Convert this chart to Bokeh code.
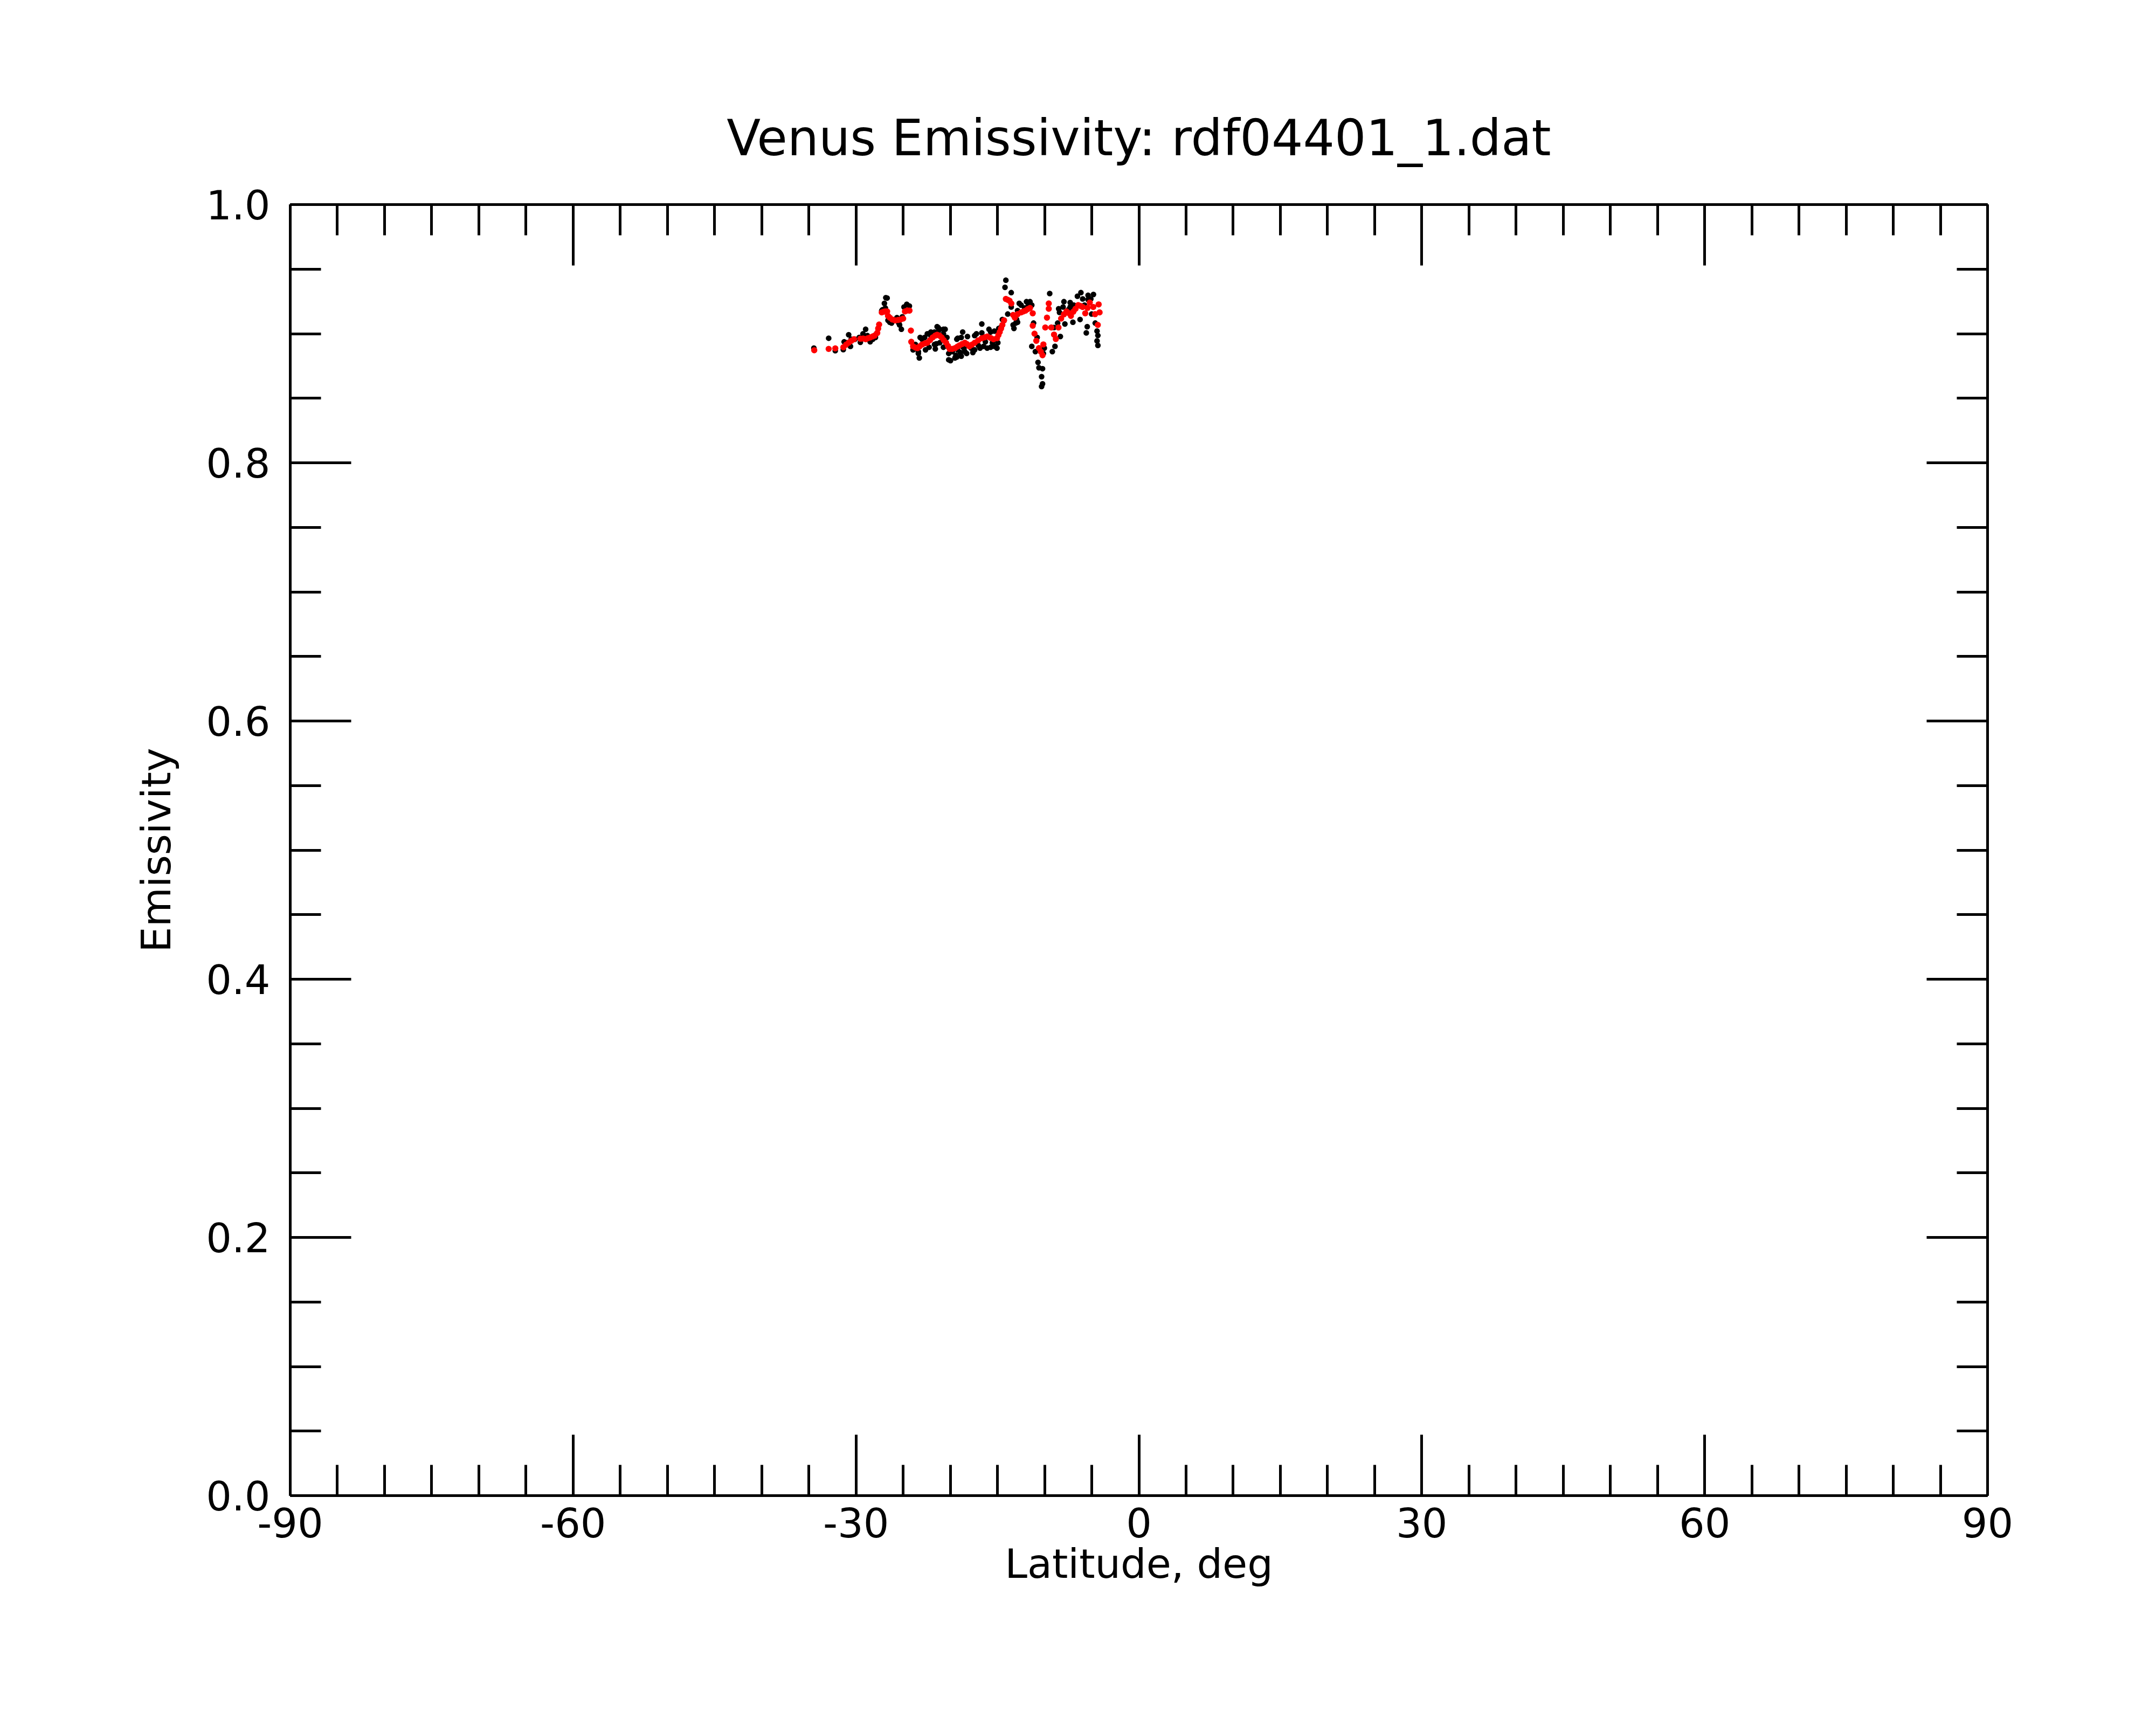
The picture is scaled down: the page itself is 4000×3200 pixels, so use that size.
from bokeh.plotting import figure
from bokeh.models import (Range1d, LinearAxis, FixedTicker, PrintfTickFormatter,
                          CustomJSTickFormatter, ColumnDataSource)
from bokeh.embed import file_html
from bokeh.resources import INLINE

# ---------------- data ----------------
title_text = "Venus Emissivity: rdf04401_1.dat"
x_label = "Latitude, deg"
y_label = "Emissivity"

x_major = [-90, -60, -30, 0, 30, 60, 90]
x_minor = list(range(-90, 91, 5))
y_major = [0.0, 0.2, 0.4, 0.6, 0.8, 1.0]
y_minor = [round(0.05 * i, 2) for i in range(21)]

# raw measurements (black)
raw_lat = [-34.47, -32.90, -32.20, -31.35, -30.78, -30.59, -30.11, -29.54, -28.98, -29.26,
           -28.50, -27.94, -26.84, -26.99, -27.18, -26.61, -26.42, -25.47, -25.19, -24.62,
           -24.34, -26.23, -26.70, -23.29, -23.39, -22.72, -22.06, -21.30, -20.73, -21.59,
           -20.17, -19.51, -18.84, -18.69, -19.22, -22.63, -21.40, -20.55, -20.36, -19.31,
           -19.98, -19.31, -17.61, -18.27, -18.18, -17.23, -16.66, -16.47, -15.72, -15.05,
           -15.90, -15.33, -14.11, -14.20, -13.54, -13.91, -13.25, -12.87, -12.69, -11.92,
           -11.55, -11.36, -10.98, -10.70, -10.60, -10.22, -10.32, -10.22, -10.32, -9.46,
           -7.95, -7.29, -6.15, -6.52, -4.82, -5.39, -4.44, -4.35, -4.44, -4.35,
           -5.58, -5.48, -7.85, -7.00, -6.24, -9.18, -8.90, -8.33, -10.03, -10.13,
           -8.51, -7.47, -5.96, -5.10,
           -23.70, -23.00, -22.06, -21.30, -20.73, -20.26, -19.79, -19.22, -18.65, -22.25,
           -21.49, -18.55, -17.79, -17.03, -16.28, -15.53, -14.96, -14.58, -13.54, -12.87,
           -12.11, -11.73, -11.17, -10.79, -12.97, -8.42, -8.04, -7.29, -6.91, -5.77,
           -5.39, -5.01, -4.63, -9.00, -8.62, -31.26, -30.98, -30.51, -29.66, -28.79,
           -28.22, -27.84, -27.27, -26.89, -25.66, -25.09, -24.91, -25.38,
           -23.95, -23.39, -21.68, -21.12, -20.73, -20.17, -19.41, -18.93, -18.46, -21.12,
           -21.68, -22.44, -23.20, -18.84, -17.42, -16.85, -16.09, -15.33, -17.42, -16.66,
           -15.72, -14.86, -14.48, -12.49, -11.36, -13.06, -13.34]
raw_emis = [0.8888, 0.8965, 0.8868, 0.8877, 0.8992, 0.8902, 0.8957, 0.8933, 0.9034, 0.8999,
            0.8937, 0.8971, 0.9279, 0.9235, 0.9186, 0.9103, 0.9089, 0.9082, 0.9034, 0.9228,
            0.9214, 0.9082, 0.9276, 0.8812, 0.8847, 0.8971, 0.9013, 0.9048, 0.9034, 0.8882,
            0.8798, 0.8812, 0.8826, 0.9013, 0.8965, 0.8875, 0.9054, 0.9034, 0.8971, 0.8957,
            0.8791, 0.8819, 0.8854, 0.8847, 0.8978, 0.8999, 0.9075, 0.8902, 0.8895, 0.8888,
            0.9034, 0.9020, 0.9414, 0.9359, 0.9318, 0.9152, 0.9041, 0.9089, 0.9235, 0.9248,
            0.9248, 0.8902, 0.8861, 0.8778, 0.8736, 0.8729, 0.8667, 0.8612, 0.8591, 0.9311,
            0.9248, 0.9241, 0.9318, 0.9290, 0.9304, 0.9297, 0.9020, 0.8986, 0.8944, 0.8909,
            0.9006, 0.9054, 0.9075, 0.9089, 0.9110, 0.8861, 0.8902, 0.8978, 0.8888, 0.8847,
            0.9193, 0.9186, 0.9269, 0.9269,
            0.8916, 0.8957, 0.8985, 0.9013, 0.8999, 0.8902, 0.8861, 0.8875, 0.8895, 0.8895,
            0.8922, 0.8888, 0.8888, 0.8909, 0.8937, 0.8930, 0.8930, 0.9054, 0.9207, 0.9179,
            0.9199, 0.9221, 0.9082, 0.8971, 0.9110, 0.9165, 0.9207, 0.9207, 0.9221, 0.9221,
            0.9264, 0.9152, 0.9082, 0.9048, 0.9082, 0.8937, 0.8930, 0.8957, 0.8971, 0.8985,
            0.8957, 0.8999, 0.9179, 0.9199, 0.9124, 0.9131, 0.9207, 0.9068,
            0.8875, 0.8861, 0.8916, 0.8930, 0.8895, 0.8847, 0.8833, 0.8854, 0.8861, 0.9034,
            0.9013, 0.8999, 0.8971, 0.8971, 0.8875, 0.8888, 0.8888, 0.8902, 0.8985, 0.9006,
            0.9013, 0.9041, 0.9110, 0.9221, 0.9221, 0.9082, 0.9068]

# smoothed values (red)
fit_lat = [-34.43, -32.90, -32.20, -31.34, -31.05, -30.78, -30.50, -30.21, -29.54, -29.25,
           -28.97, -28.75, -28.50, -28.25, -28.03, -27.75, -27.65, -27.55, -27.27, -27.05,
           -26.89, -26.70, -26.61, -26.42, -26.15, -25.85, -25.55, -25.28, -25.00, -24.81,
           -24.55, -24.33, -24.18, -24.14, -23.95, -23.70, -23.48, -23.25, -23.00, -22.70,
           -22.44, -22.15, -21.87, -21.60, -21.40, -21.15, -20.92, -20.70, -20.45, -20.25,
           -20.07, -19.80, -19.50, -19.25, -19.03, -18.75, -18.46, -18.25, -17.98, -17.70,
           -17.41, -17.05, -16.66, -16.35, -16.09, -15.75, -15.43, -15.05, -14.90, -14.76,
           -14.62, -14.48, -14.30, -14.11, -13.90, -13.72, -13.53, -13.34, -13.16, -12.87,
           -12.49, -12.25, -12.02, -11.80, -11.55, -11.26, -11.26, -11.07, -10.88, -10.60,
           -10.40, -10.22, -10.13, -9.93, -9.75, -9.56, -9.56, -9.29, -9.00, -8.81,
           -8.53, -8.25, -7.95, -7.68, -7.45, -7.21, -6.95, -6.72, -6.44, -6.20,
           -5.97, -5.69, -5.45, -5.21, -4.84, -4.65, -4.36, -4.27, -4.17]
fit_emis = [0.8872, 0.8882, 0.8886, 0.8895, 0.8915, 0.8930, 0.8945, 0.8957, 0.8961, 0.8962,
            0.8957, 0.8965, 0.8971, 0.8978, 0.8985, 0.9006, 0.9040, 0.9071, 0.9165, 0.9170,
            0.9172, 0.9172, 0.9138, 0.9124, 0.9110, 0.9103, 0.9106, 0.9110, 0.9117, 0.9172,
            0.9180, 0.9179, 0.9024, 0.8937, 0.8902, 0.8893, 0.8888, 0.8902, 0.8916, 0.8925,
            0.8930, 0.8950, 0.8971, 0.8985, 0.8992, 0.8985, 0.8971, 0.8950, 0.8930, 0.8905,
            0.8882, 0.8882, 0.8888, 0.8900, 0.8909, 0.8920, 0.8930, 0.8920, 0.8902, 0.8915,
            0.8930, 0.8948, 0.8965, 0.8972, 0.8978, 0.8968, 0.8957, 0.8965, 0.8990, 0.9013,
            0.9040, 0.9068, 0.9103, 0.9269, 0.9262, 0.9255, 0.9234, 0.9145, 0.9124, 0.9151,
            0.9165, 0.9172, 0.9179, 0.9190, 0.9199, 0.9158, 0.9062, 0.9000, 0.8945, 0.8888,
            0.8860, 0.8833, 0.8917, 0.9048, 0.9124, 0.9193, 0.9234, 0.9048, 0.8993, 0.8959,
            0.9048, 0.9117, 0.9150, 0.9172, 0.9160, 0.9138, 0.9170, 0.9193, 0.9221, 0.9215,
            0.9207, 0.9158, 0.9200, 0.9241, 0.9207, 0.9151, 0.9068, 0.9227, 0.9165]

# ---------------- figure ----------------
FONT = "DejaVu Sans"
LW = 5
MAJ = 113
MIN = 57

p = figure(width=3984, height=3184, output_backend="svg", toolbar_location=None,
           x_range=Range1d(-90, 90), y_range=Range1d(0, 1),
           x_axis_location=None, y_axis_location=None,
           min_border_left=538, min_border_right=297, min_border_top=379, min_border_bottom=410)
p.outline_line_color = None
p.background_fill_color = "white"
p.border_fill_color = "white"
p.xgrid.visible = False
p.ygrid.visible = False

p.title.text = title_text
p.title.text_font = FONT
p.title.text_font_size = "92px"
p.title.text_font_style = "normal"
p.title.text_color = "black"
p.title.align = "center"
p.title.standoff = 139


def style(ax, labels, ticks, minors):
    ax.ticker = FixedTicker(ticks=ticks, minor_ticks=minors)
    ax.axis_line_width = LW
    ax.axis_line_color = "black"
    ax.major_tick_line_width = LW
    ax.minor_tick_line_width = LW
    ax.major_tick_line_color = "black"
    ax.minor_tick_line_color = "black"
    ax.major_tick_in = MAJ
    ax.major_tick_out = 0
    ax.minor_tick_in = MIN
    ax.minor_tick_out = 0
    ax.major_label_text_font = FONT
    ax.axis_label_text_font = FONT
    ax.axis_label_text_font_style = "normal"
    ax.axis_label_text_color = "black"
    ax.major_label_text_color = "black"
    ax.major_label_text_font_size = "75px"
    ax.axis_label_text_font_size = "75px"
    if not labels:
        ax.formatter = CustomJSTickFormatter(code="return ''")
        ax.major_label_standoff = 0
        ax.axis_label_standoff = 0


xb = LinearAxis(axis_label=x_label, formatter=PrintfTickFormatter(format="%d"))
style(xb, True, x_major, x_minor)
xb.major_label_standoff = 22
xb.axis_label_standoff = 2
p.add_layout(xb, "below")

xt = LinearAxis()
style(xt, False, x_major, x_minor)
p.add_layout(xt, "above")

yl = LinearAxis(axis_label=y_label, formatter=PrintfTickFormatter(format="%.1f"))
style(yl, True, y_major, y_minor)
yl.major_label_standoff = 37
yl.axis_label_standoff = 45
p.add_layout(yl, "left")

yr = LinearAxis()
style(yr, False, y_major, y_minor)
p.add_layout(yr, "right")

raw = ColumnDataSource(dict(lat=raw_lat, emis=raw_emis))
fit = ColumnDataSource(dict(lat=fit_lat, emis=fit_emis))
p.scatter("lat", "emis", source=raw, marker="circle", size=10.5, fill_color="black", line_color=None)
p.scatter("lat", "emis", source=fit, marker="circle", size=11.5, fill_color="red", line_color=None)

open("out.html", "w").write(file_html(p, INLINE))
